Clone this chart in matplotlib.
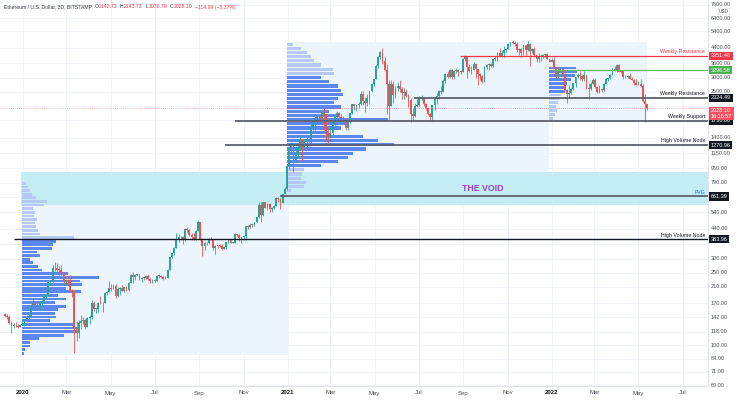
import numpy as np
import pandas as pd
import matplotlib
matplotlib.use("Agg")
import matplotlib.pyplot as plt
import matplotlib.dates as mdates

plt.rcParams['font.family'] = ['Liberation Sans', 'DejaVu Sans']

# ---------------- data (3-day candles, ETH/USD Bitstamp) ----------------
first_date = '2019-12-07'
first_open = 148.0
close = [
    145, 142, 133, 128, 128, 127, 126, 129, 130,
    138, 141, 145, 165, 170, 166, 162, 170, 175, 183,
    189, 222, 224, 265, 266, 260, 261, 248, 226, 230,
    228, 200, 195, 124, 116, 132, 135, 138, 125, 141,
    143, 170, 158, 158, 171, 170, 171, 194, 197, 206,
    205, 213, 187, 203, 207, 200, 208, 201, 220, 244,
    238, 244, 248, 232, 236, 235, 242, 231, 225, 230,
    226, 241, 242, 238, 232, 236, 260, 305, 321, 345, 386,
    395, 394, 380, 438, 430, 405, 396, 383, 428, 477,
    385, 353, 367, 365, 384, 384, 343, 354, 353, 352,
    340, 350, 370, 380, 366, 368, 408, 406, 388, 395,
    400, 455, 450, 462, 460, 478, 510, 590, 520, 615,
    570, 600, 565, 570, 588, 645, 640, 610, 680, 730, 975,
    1210, 1270, 1050, 1170, 1230, 1380, 1230, 1330, 1380, 1370,
    1600, 1745, 1770, 1840, 1780, 1935, 1900, 1480, 1420,
    1480, 1650, 1830, 1920, 1810, 1800, 1780, 1580, 1700, 1910, 2140,
    2080, 2110, 2150, 2430, 2240, 2170, 2330, 2530, 2750, 2950,
    3500, 3900, 4170, 3700, 3300, 2780, 2090, 2750, 2420, 2630,
    2700, 2600, 2470, 2510, 2380, 2250, 1880, 1830, 2090, 2110,
    2320, 2320, 2140, 2030, 1900, 1810, 2120, 2300, 2380, 2530,
    2510, 2890, 3160, 3040, 3310, 3020, 3270, 3320, 3240, 3230, 3790,
    3930, 3430, 3260, 3290, 3570, 3330, 3150, 3060, 2850, 3420,
    3520, 3560, 3500, 3780, 3850, 4080, 3970, 4130, 4280, 4320,
    4600, 4730, 4640, 4600, 4280, 4310, 4090, 4520, 4290, 4630,
    4200, 4300, 4000, 3780, 3960, 3940, 3980, 4050, 3800, 3680,
    3760, 3420, 3150, 3240, 3330, 3100, 2570, 2450, 2470, 2600, 2800,
    3020, 3120, 3080, 2930, 3090, 2620, 2590, 2780, 2920,
    2660, 2500, 2600, 2570, 2770, 2950, 2970, 3110, 3330, 3290,
    3520, 3230, 3260, 3030, 3040, 3060, 2960, 2920, 2810, 2730,
    2780, 2690, 2230, 2142.73, 2028.10,
]
high = [
    151, 149, 146, 135, 133, 134, 130, 131, 134,
    140, 146, 148, 168, 180, 175, 170, 172, 177, 188,
    192, 224, 228, 275, 288, 285, 272, 275, 250, 232,
    232, 244, 203, 200, 136, 138, 147, 143, 139, 143,
    147, 177, 174, 161, 173, 187, 172, 197, 200, 227,
    216, 218, 216, 210, 208, 214, 210, 212, 222, 246,
    252, 248, 250, 248, 238, 238, 245, 247, 236, 233,
    233, 243, 248, 244, 241, 240, 262, 307, 324, 347, 415,
    410, 402, 398, 442, 446, 437, 418, 418, 432, 488,
    480, 390, 370, 372, 392, 394, 384, 356, 358, 360,
    363, 352, 370, 381, 380, 370, 416, 412, 408, 396,
    405, 457, 458, 471, 465, 481, 510, 615, 617, 616,
    620, 612, 605, 577, 592, 658, 660, 645, 682, 750, 1000,
    1220, 1330, 1290, 1260, 1280, 1440, 1370, 1370, 1440, 1390,
    1660, 1750, 1830, 1850, 1870, 1960, 2040, 1780, 1560,
    1580, 1680, 1870, 1950, 1930, 1880, 1830, 1800, 1720, 1920, 2150,
    2150, 2130, 2200, 2540, 2540, 2340, 2440, 2540, 2800, 2960,
    3530, 3950, 4200, 4380, 3920, 3580, 2900, 2910, 2890, 2700,
    2850, 2900, 2660, 2620, 2610, 2450, 2330, 2030, 2160, 2280,
    2360, 2410, 2240, 2180, 2030, 1920, 2130, 2340, 2460, 2550,
    2700, 2950, 3180, 3250, 3330, 3330, 3290, 3370, 3360, 3290, 3830,
    4020, 3960, 3550, 3470, 3660, 3580, 3170, 3190, 3110, 3470,
    3540, 3620, 3610, 3800, 3970, 4170, 4370, 4290, 4460, 4380,
    4660, 4740, 4870, 4800, 4700, 4370, 4350, 4550, 4560, 4780,
    4650, 4360, 4420, 4020, 4100, 4030, 4030, 4130, 4100, 3820,
    3840, 3880, 3420, 3410, 3410, 3390, 3180, 2590, 2720, 2630, 2810,
    3030, 3170, 3270, 3100, 3280, 3100, 2800, 2840, 2980,
    3000, 2680, 2720, 2640, 2800, 3000, 3000, 3150, 3400, 3480,
    3580, 3550, 3300, 3270, 3120, 3100, 3180, 3040, 2940, 2950,
    2870, 2960, 2750, 2450, 2143.73,
]
low = [
    143, 140, 131, 116, 124, 125, 124, 125, 127,
    127, 134, 136, 143, 160, 161, 158, 156, 166, 172,
    180, 186, 215, 222, 255, 250, 245, 245, 218, 215,
    218, 198, 185, 90, 105, 110, 122, 130, 122, 125,
    130, 140, 155, 150, 152, 168, 152, 171, 190, 196,
    200, 203, 182, 185, 190, 198, 196, 198, 198, 219,
    220, 230, 240, 230, 222, 228, 233, 229, 220, 221,
    222, 225, 236, 236, 230, 231, 235, 260, 301, 315, 345,
    370, 380, 360, 375, 420, 400, 380, 380, 378, 425,
    380, 310, 334, 355, 360, 378, 335, 320, 343, 346,
    335, 338, 340, 365, 366, 365, 366, 402, 375, 368,
    380, 382, 440, 444, 449, 452, 475, 505, 480, 514,
    570, 560, 540, 540, 565, 583, 620, 565, 605, 680, 720,
    940, 1120, 900, 1030, 1090, 1200, 1040, 1220, 1200, 1260,
    1310, 1550, 1550, 1700, 1720, 1770, 1540, 1360, 1290,
    1400, 1450, 1660, 1770, 1780, 1740, 1730, 1550, 1550, 1680, 1900,
    2000, 1950, 2050, 2110, 2130, 1940, 2100, 2150, 2500, 2700,
    2930, 3380, 3800, 3550, 3250, 1900, 1740, 2150, 2170, 2330,
    2530, 2490, 2300, 2300, 2340, 2070, 1700, 1720, 1810, 2070,
    2080, 2250, 2100, 1990, 1860, 1720, 1720, 2000, 2150, 2300,
    2450, 2500, 2800, 3000, 3000, 2950, 2960, 3200, 3080, 3140, 3220,
    3710, 3000, 3220, 3150, 3290, 3000, 2740, 2900, 2800, 2820,
    3350, 3320, 3420, 3430, 3690, 3720, 3890, 3890, 3900, 4150,
    4300, 4480, 4600, 4510, 4150, 3980, 3900, 4000, 3950, 4230,
    3500, 4100, 3900, 3650, 3670, 3700, 3850, 3900, 3780, 3640,
    3660, 3400, 3000, 3000, 3250, 3060, 2540, 2160, 2320, 2430, 2560,
    2650, 2980, 2900, 2870, 2890, 2600, 2300, 2570, 2750,
    2640, 2480, 2470, 2500, 2520, 2750, 2860, 2950, 3100, 3250,
    3240, 3220, 3190, 2950, 2990, 2970, 2950, 2910, 2730, 2720,
    2720, 2660, 2210, 1700, 1976.70,
]

# volume profiles: relative volume per row (bottom -> top)
vp1_vol = [2, 3, 8, 8, 17, 42, 55, 57, 52, 28, 34, 33, 36, 44, 33, 44, 36, 59, 44, 60,
           58, 77, 46, 20, 16, 11, 8, 18, 15, 30, 31, 34, 52, 18, 16, 14, 13, 15, 12, 13,
           11, 22, 25, 14, 10, 8, 6, 4]
vp1_price = (88, 800)
vp1_va = (0, 31)
vp1_dates = ('2019-12-31', '2021-01-01')
vp1_box = (88, 870)

vp2_vol = [4, 17, 19, 14, 15, 17, 34, 51, 61, 66, 79, 107, 91, 76, 41, 54, 62, 101, 52, 42,
           54, 47, 51, 56, 54, 51, 42, 34, 47, 46, 34, 27, 24, 20, 14, 6]
vp2_price = (692, 4720)
vp2_va = (6, 27)
vp2_dates = ('2020-12-31', '2021-12-28')
vp2_box = (640, 4750)

vp3_vol = [4, 6, 8, 7, 9, 10, 12, 16, 15, 18, 22, 26, 28, 27]
vp3_price = (1750, 3475)
vp3_va = (7, 13)
vp3_dates = ('2021-12-28', '2022-05-13')
vp3_box = (1700, 4750)

void_price = (593, 903)
void_start = '2019-12-29'
void_label = 'THE VOID'

levels = [3951.48, 3296.58, 2324.49, 1730.00, 1270.96, 661.39, 383.96]
level_from = ['2021-08-27', '2022-01-01', '2021-06-24', '2020-10-20', '2020-10-06',
              '2020-12-21', '2019-12-19']
level_names = ['Weekly Resistance', '', 'Weekly Resistance', 'Weekly Support',
               'High Volume Node', 'FVG', 'High Volume Node']

last_price = 2028.10
last_time = '16:16:57'
price_ticks = [7600, 6400, 5400, 4400, 3600, 3000, 2500, 1400, 1150, 950, 790, 540, 440,
               300, 250, 210, 170, 142, 118, 100, 84, 71, 60]
grid_prices = price_ticks + [2100, 1750, 660, 360]

header = [("Ethereum / U.S. Dollar, 3D, BITSTAMP", '#363a45'), ("O", '#363a45'), ("2142.73", '#f23645'),
          ("H", '#363a45'), ("2143.73", '#f23645'), ("L", '#363a45'), ("1976.70", '#f23645'),
          ("C", '#363a45'), ("2028.10", '#f23645'), ("\u2212114.99 (\u22125.37%)", '#f23645')]

# ---------------- figure ----------------
W, H = 738, 403
fig = plt.figure(figsize=(W / 100, H / 100), dpi=100)
fig.patch.set_facecolor('white')
PLOT_R, PLOT_B = 708, 386
ax = fig.add_axes([0, (H - PLOT_B) / H, PLOT_R / W, PLOT_B / H])
ax.set_yscale('log')
ax.set_ylim(59.36, 8054)
base = mdates.date2num(pd.Timestamp('2020-01-01'))
ax.set_xlim(base - 31.8, base + 947.1)
px_per_day = PLOT_R / (ax.get_xlim()[1] - ax.get_xlim()[0])

for s in ['top', 'left']:
    ax.spines[s].set_visible(False)
ax.spines['right'].set_color('#e0e3eb')
ax.spines['bottom'].set_color('#e0e3eb')
ax.spines['right'].set_linewidth(0.8)
ax.spines['bottom'].set_linewidth(0.8)
ax.set_xticks([])
ax.set_yticks([])
ax.yaxis.set_minor_locator(matplotlib.ticker.NullLocator())

# grid
for p in grid_prices:
    ax.axhline(p, color='#eef1f8', lw=0.6, zorder=0.2)
months = pd.date_range('2020-01-01', '2022-07-01', freq='2MS')
for m in months:
    ax.axvline(mdates.date2num(m), color='#eef1f8', lw=0.6, zorder=0.2)

def dn(s):
    return mdates.date2num(pd.Timestamp(s))

# range boxes
for (d0, d1), (p0, p1) in [(vp1_dates, vp1_box), (vp2_dates, vp2_box), (vp3_dates, vp3_box)]:
    ax.fill_between([dn(d0), dn(d1)], p0, p1, color='#ecf4fc', lw=0, zorder=0.5)

# void band
ax.fill_between([dn(void_start), ax.get_xlim()[1]], void_price[0], void_price[1],
                color='#c4ecf5', lw=0, zorder=0.8)
ax.text(483 / PLOT_R, np.sqrt(void_price[0] * void_price[1]), void_label,
        transform=ax.get_yaxis_transform(), ha='center', va='center',
        color='#9a3fbe', fontsize=6.3, fontweight='bold', zorder=6)

# volume profiles
def draw_profile(vols, prange, va, x0):
    n = len(vols)
    le = np.linspace(np.log10(prange[0]), np.log10(prange[1]), n + 1)
    dl = le[1] - le[0]
    lo = 10 ** (le[:-1] + 0.12 * dl)
    hi = 10 ** (le[1:] - 0.12 * dl)
    widths = np.asarray(vols, float) / px_per_day
    cols = ['#5d87ef' if va[0] <= i <= va[1] else '#b6c8f4' for i in range(n)]
    ax.barh(lo, widths, height=hi - lo, left=x0, align='edge', color=cols, lw=0, zorder=2)

draw_profile(vp1_vol, vp1_price, vp1_va, dn(vp1_dates[0]))
draw_profile(vp2_vol, vp2_price, vp2_va, dn(vp2_dates[0]))
draw_profile(vp3_vol, vp3_price, vp3_va, dn(vp3_dates[0]))

# candles
c = np.asarray(close, float)
o = np.concatenate([[first_open], c[:-1]])
hh = np.maximum(np.asarray(high, float), np.maximum(o, c))
ll = np.minimum(np.asarray(low, float), np.minimum(o, c))
x = mdates.date2num(pd.date_range(first_date, periods=len(c), freq='3D'))
up = c >= o
cols = np.where(up, '#26a69a', '#ef5350')
ax.vlines(x, ll, hh, colors=cols, lw=0.6, zorder=4)
body_lo = np.minimum(o, c)
body_hi = np.maximum(np.maximum(o, c), body_lo * 1.008)
ax.bar(x, body_hi - body_lo, bottom=body_lo, width=2.5, color=cols, lw=0, zorder=4.1)

# current price dotted line
ax.axhline(last_price, color='#f23645', lw=0.5, ls=(0, (1, 2)), alpha=0.7, zorder=3)

# levels
line_cols = ['#f23645', '#66bb6a', '#5d606b', '#5d606b', '#5d606b', '#5d606b', '#131722']
line_w = [0.9, 0.9, 1.3, 1.3, 1.3, 1.3, 1.0]
text_cols = ['#f23645', '#4caf50', '#131722', '#131722', '#131722', '#2962ff', '#131722']
box_cols = ['#f23645', '#4caf50', '#131722', '#131722', '#131722', '#131722', '#131722']
ytrans = ax.get_yaxis_transform()
for lv, d0, name, lc, lw, tc in zip(levels, level_from, level_names, line_cols, line_w, text_cols):
    ax.hlines(lv, dn(d0), ax.get_xlim()[1], color=lc, lw=lw, zorder=5)
    if name:
        ax.annotate(name, (705 / PLOT_R, lv), xycoords=ytrans, xytext=(0, 1.2),
                    textcoords='offset points', ha='right', va='bottom', fontsize=3.8,
                    color=tc, zorder=7, annotation_clip=False)

# price axis labels
lab_x = 711 / PLOT_R
for p in price_ticks:
    ax.text(lab_x, p, f"{p:.2f}", transform=ytrans, ha='left', va='center', fontsize=4,
            color='#4a4e59', clip_on=False, zorder=1)
for lv, bc in zip(levels, box_cols):
    ax.text(lab_x, lv, f"{lv:.2f}", transform=ytrans, ha='left', va='center', fontsize=4,
            color='white', clip_on=False, zorder=10,
            bbox=dict(boxstyle='square,pad=0.28', fc=bc, ec='none'))
ax.text(lab_x, last_price, f"{last_price:.2f}\n{last_time}", transform=ytrans, ha='left',
        va='top', fontsize=4, color='white', clip_on=False, zorder=11, linespacing=1.1,
        bbox=dict(boxstyle='square,pad=0.28', fc='#f7525f', ec='none'))
fig.text(724 / W, 1 - 11.5 / H, 'USD', ha='center', va='center', fontsize=3.4, color='#4a4e59',
         bbox=dict(boxstyle='round,pad=0.2', fc='white', ec='#d1d4dc', lw=0.4), zorder=12)

# date axis labels
for m in months:
    lbl = str(m.year) if m.month == 1 else m.strftime('%b')
    xf = ax.transData.transform((mdates.date2num(m), 100))[0] / W
    fig.text(xf, 1 - 393 / H, lbl, ha='center', va='center', fontsize=4.3,
             color='#131722' if m.month == 1 else '#4a4e59',
             fontweight='bold' if m.month == 1 else 'normal')

# header
fig.canvas.draw()
r = fig.canvas.get_renderer()
xp = 4
for i, (s, col) in enumerate(header):
    t = fig.text(xp / W, 1 - 7 / H, s, ha='left', va='center', fontsize=3.7, color=col, zorder=12)
    bb = t.get_window_extent(renderer=r)
    gap = 0.3 if s in ('O', 'H', 'L', 'C') else 2.6
    xp = bb.x1 + gap

fig.savefig('out.png', dpi=100, facecolor='white')
